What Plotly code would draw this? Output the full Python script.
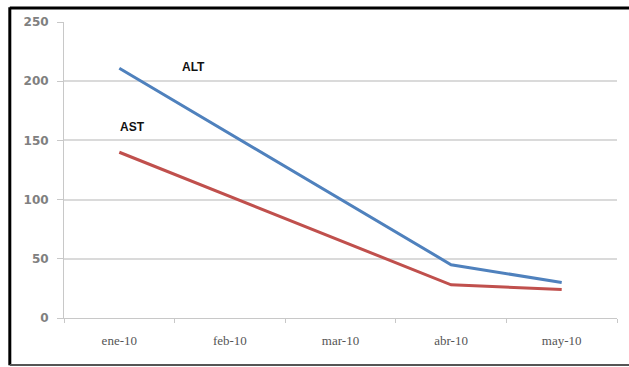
import plotly.graph_objects as go

# Monthly enzyme readings (U/L); feb and mar were not measured
months = ["ene-10", "feb-10", "mar-10", "abr-10", "may-10"]
alt_values = [211, None, None, 45, 30]
ast_values = [140, None, None, 28, 24]
y_ticks = [0, 50, 100, 150, 200, 250]

fig = go.Figure()
fig.add_trace(go.Scatter(x=months, y=alt_values, mode="lines", connectgaps=True,
                         line=dict(color="#4F81BD", width=3), name="ALT"))
fig.add_trace(go.Scatter(x=months, y=ast_values, mode="lines", connectgaps=True,
                         line=dict(color="#C0504D", width=3), name="AST"))

# Series labels placed next to the lines
fig.add_annotation(x=0.675, y=212, text="<b>ALT</b>", showarrow=False,
                   font=dict(family="Liberation Sans", size=12, color="#111111"))
fig.add_annotation(x=0.115, y=161, text="<b>AST</b>", showarrow=False,
                   font=dict(family="Liberation Sans", size=12, color="#111111"))

# Frame around the chart
frame = dict(xref="paper", yref="paper", type="line")
fig.add_shape(**frame, x0=-0.098, x1=1.05, y0=1.047, y1=1.047, line=dict(color="#000000", width=3))
fig.add_shape(**frame, x0=-0.098, x1=-0.098, y0=1.05, y1=-0.16, line=dict(color="#000000", width=3))
fig.add_shape(**frame, x0=-0.098, x1=1.05, y0=-0.159, y1=-0.159, line=dict(color="#555555", width=2))

fig.update_layout(
    width=629, height=367,
    margin=dict(l=64, r=12, t=22, b=49),
    paper_bgcolor="white", plot_bgcolor="white",
    showlegend=False,
    xaxis=dict(type="category", range=[-0.5, 4.5], showgrid=False,
               showline=True, linecolor="#C8C8C8", linewidth=1,
               ticks="outside", tickson="boundaries", ticklen=4, tickcolor="#C8C8C8",
               ticklabelstandoff=10,
               tickfont=dict(family="Liberation Serif", size=13, color="#555555")),
    yaxis=dict(range=[0, 250], tickvals=y_ticks, showgrid=True, gridcolor="#DADADA",
               gridwidth=1.5, zeroline=False,
               showline=True, linecolor="#C8C8C8", linewidth=1,
               ticks="outside", ticklen=6, tickcolor="#C8C8C8",
               ticklabelstandoff=6,
               tickfont=dict(family="DejaVu Sans", size=12, color="#808080", weight="bold")),
)

fig.write_html("out.html")
